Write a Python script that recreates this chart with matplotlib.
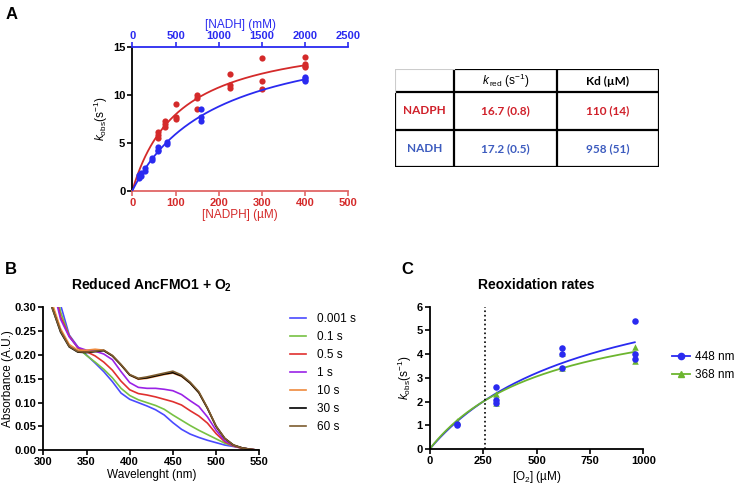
import matplotlib
matplotlib.use("Agg")
import matplotlib.pyplot as plt
import numpy as np

plt.rcParams['font.family'] = ['Liberation Sans', 'DejaVu Sans']
plt.rcParams['mathtext.fontset'] = 'custom'
plt.rcParams['mathtext.rm'] = 'Liberation Sans'
plt.rcParams['mathtext.it'] = 'Liberation Sans:italic'
plt.rcParams['mathtext.bf'] = 'Liberation Sans:bold'

# ---- panel A data ----
nadph_conc = [60, 60, 60, 75, 75, 75, 100, 100, 100, 150, 150, 150,
              225, 225, 225, 300, 300, 300, 400, 400, 400, 400]
nadph_kobs = [5.5, 5.8, 6.1, 6.7, 7.0, 7.3, 7.5, 7.7, 9.0, 8.5, 9.7, 10.0,
              10.7, 11.0, 12.2, 10.6, 11.5, 13.8, 12.9, 13.0, 13.2, 14.0]
nadh_conc = [75, 75, 100, 100, 150, 150, 225, 225, 300, 300, 300, 400, 400,
             800, 800, 800, 2000, 2000, 2000, 2000]
nadh_kobs = [1.3, 1.6, 1.5, 1.8, 2.1, 2.4, 3.2, 3.4, 4.1, 4.3, 4.6, 4.9, 5.1,
             7.3, 7.7, 8.5, 11.4, 11.6, 11.8, 11.9]
kred_nadph, kd_nadph = 16.7, 110
kred_nadh, kd_nadh = 17.2, 958

table_rows = ['NADPH', 'NADH']
table_kred = ['16.7 (0.8)', '17.2 (0.5)']
table_kd = ['110 (14)', '958 (51)']

# ---- panel B data ----
wavelength = [310, 320, 330, 340, 350, 360, 370, 380, 390, 400, 410, 420, 430,
              440, 450, 460, 470, 480, 490, 500, 510, 520, 530, 540, 550]
spectra = {
    '0.001 s': [0.40, 0.305, 0.242, 0.217, 0.200, 0.183, 0.165, 0.144, 0.120, 0.107,
                0.100, 0.093, 0.085, 0.074, 0.058, 0.044, 0.034, 0.027, 0.021, 0.016,
                0.011, 0.008, 0.005, 0.002, 0.0],
    '0.1 s': [0.38, 0.29, 0.240, 0.215, 0.199, 0.185, 0.170, 0.152, 0.130, 0.115,
              0.106, 0.100, 0.094, 0.086, 0.074, 0.063, 0.052, 0.042, 0.033, 0.024,
              0.015, 0.009, 0.005, 0.002, 0.0],
    '0.5 s': [0.36, 0.28, 0.240, 0.215, 0.207, 0.198, 0.185, 0.168, 0.145, 0.127,
              0.119, 0.116, 0.112, 0.107, 0.102, 0.095, 0.083, 0.072, 0.057, 0.035,
              0.018, 0.009, 0.004, 0.002, 0.0],
    '1 s': [0.35, 0.275, 0.238, 0.216, 0.210, 0.208, 0.202, 0.190, 0.165, 0.142,
            0.132, 0.130, 0.130, 0.128, 0.125, 0.117, 0.104, 0.092, 0.070, 0.042,
            0.020, 0.010, 0.005, 0.002, 0.0],
    '10 s': [0.31, 0.255, 0.222, 0.210, 0.210, 0.212, 0.210, 0.198, 0.179, 0.158,
             0.149, 0.151, 0.155, 0.159, 0.162, 0.155, 0.141, 0.121, 0.088, 0.050,
             0.025, 0.011, 0.005, 0.002, 0.0],
    '30 s': [0.30, 0.248, 0.217, 0.206, 0.205, 0.207, 0.209, 0.198, 0.179, 0.158,
             0.150, 0.152, 0.156, 0.160, 0.163, 0.156, 0.141, 0.121, 0.088, 0.050,
             0.025, 0.011, 0.005, 0.002, 0.0],
    '60 s': [0.30, 0.250, 0.218, 0.207, 0.206, 0.208, 0.210, 0.199, 0.180, 0.159,
             0.151, 0.154, 0.158, 0.162, 0.166, 0.158, 0.143, 0.123, 0.089, 0.051,
             0.025, 0.011, 0.005, 0.002, 0.0],
}
spec_colors = ['#4a4aff', '#77c143', '#e0302f', '#9a22e6', '#ef8a3d', '#000000', '#7d5c2f']

# ---- panel C data ----
o2_448 = [130, 130, 310, 310, 310, 620, 620, 620, 960, 960, 960]
k_448 = [1.0, 1.05, 1.95, 2.05, 2.6, 3.4, 4.0, 4.25, 3.8, 4.0, 5.4]
o2_368 = [130, 310, 310, 620, 620, 960, 960]
k_368 = [1.2, 1.95, 2.3, 3.4, 4.05, 3.7, 4.3]
kmax_448, k50_448 = 8.04, 755
kmax_368, k50_368 = 6.5, 563
o2_air = 260

RED = '#d42a2a'
BLUE = '#2a2af0'
GREEN = '#6cb52f'
TICK = 8

fig = plt.figure(figsize=(7.38, 4.86), dpi=100)
W, H = 738, 486


def add_ax(l, t, r, b):
    return fig.add_axes([l / W, 1 - b / H, (r - l) / W, (b - t) / H])


def style(ax):
    for s in ['left', 'bottom']:
        ax.spines[s].set_linewidth(1.3)
    ax.spines['top'].set_visible(False)
    ax.spines['right'].set_visible(False)
    ax.tick_params(direction='out', length=3.5, width=1.2, labelsize=TICK, pad=1.5)
    for lab in ax.get_xticklabels() + ax.get_yticklabels():
        lab.set_fontweight('bold')


# ================= Panel A =================
axA = add_ax(132.3, 47, 348.3, 190.7)
axA.scatter(nadph_conc, nadph_kobs, s=20, color=RED, zorder=3, linewidths=0)
xs = np.linspace(0, 400, 200)
axA.plot(xs, kred_nadph * xs / (kd_nadph + xs), color=RED, lw=1.3)
axA.set_xlim(0, 500)
axA.set_ylim(0, 15)
axA.set_xticks([0, 100, 200, 300, 400, 500])
axA.set_yticks([0, 5, 10, 15])
style(axA)
axA.spines['bottom'].set_color('#e06666')
axA.tick_params(axis='x', colors='#e06666', labelcolor=RED)
axA.set_xlabel('[NADPH] (\u00b5M)', color=RED, fontsize=8.5, labelpad=1)
axA.set_ylabel(r'$k_{\mathrm{obs}}(\mathrm{s}^{-1})$', fontsize=8.5, labelpad=2)
for lab in axA.get_xticklabels() + axA.get_yticklabels():
    lab.set_fontweight('bold')

axT = axA.twiny()
axT.scatter(nadh_conc, nadh_kobs, s=20, color=BLUE, zorder=3, linewidths=0)
xs2 = np.linspace(0, 2000, 200)
axT.plot(xs2, kred_nadh * xs2 / (kd_nadh + xs2), color=BLUE, lw=1.3)
axT.set_xlim(0, 2500)
axT.set_xticks([0, 500, 1000, 1500, 2000, 2500])
for s in ['bottom', 'left', 'right']:
    axT.spines[s].set_visible(False)
axT.spines['top'].set_color(BLUE)
axT.spines['top'].set_linewidth(1.3)
axT.tick_params(axis='x', colors=BLUE, labelcolor=BLUE, direction='out', length=3.5,
                width=1.2, labelsize=TICK, pad=1)
for lab in axT.get_xticklabels():
    lab.set_fontweight('bold')
axT.set_xlabel('[NADH] (mM)', color=BLUE, fontsize=8.5, labelpad=2)

# ---- table ----
axTab = add_ax(395, 69.3, 659.3, 167.3)
axTab.set_xlim(395, 659.3)
axTab.set_ylim(167.3, 69.3)
axTab.axis('off')
xc = [395, 454, 556.7, 659.3]
yc = [69.3, 92, 130, 167.3]
kw = dict(color='black', lw=1.6, solid_capstyle='projecting')
axTab.plot([454, 659.3], [69.3, 69.3], **kw)
for y in yc[1:]:
    axTab.plot([395, 659.3], [y, y], **kw)
for x in xc[1:]:
    axTab.plot([x, x], [69.3, 167.3], **kw)
axTab.plot([395, 395], [92, 167.3], **kw)
axTab.plot([395, 454], [69.3, 69.3], color='#cccccc', lw=0.8)
axTab.plot([395, 395], [69.3, 92], color='#cccccc', lw=0.8)
tf = ['Lato', 'DejaVu Sans']
axTab.text(505.3, 81, r'$k_{\,\mathrm{red}}\ (\mathrm{s}^{-1})$', ha='center', va='center',
           fontsize=8.5)
axTab.text(608, 81, 'Kd (\u00b5M)', ha='center', va='center', fontsize=8.5,
           family=tf, fontweight='bold')
row_colors = ['#d0202a', '#3d5cbf']
for i, name in enumerate(table_rows):
    yy = (yc[i + 1] + yc[i + 2]) / 2
    axTab.text(424.5, yy, name, ha='center', va='center', fontsize=8.5,
               family=tf, fontweight='bold', color=row_colors[i])
    axTab.text(505.3, yy, table_kred[i], ha='center', va='center', fontsize=8.5,
               family=tf, fontweight='bold', color=row_colors[i])
    axTab.text(608, yy, table_kd[i], ha='center', va='center', fontsize=8.5,
               family=tf, fontweight='bold', color=row_colors[i])

# ================= Panel B =================
axB = add_ax(43.3, 307.3, 259.3, 450.3)
for (lab, vals), c in zip(spectra.items(), spec_colors):
    axB.plot(wavelength, vals, color=c, lw=1.2, label=lab)
axB.set_xlim(300, 550)
axB.set_ylim(0, 0.30)
axB.set_xticks([300, 350, 400, 450, 500, 550])
axB.set_yticks([0, 0.05, 0.10, 0.15, 0.20, 0.25, 0.30])
axB.yaxis.set_major_formatter(matplotlib.ticker.FormatStrFormatter('%.2f'))
style(axB)
axB.set_xlabel('Wavelenght (nm)', fontsize=8.5, labelpad=1)
axB.set_ylabel('Absorbance (A.U.)', fontsize=8.5, labelpad=0)
axB.set_title(r'Reduced AncFMO1 + O$_\mathbf{2}$', fontsize=10, fontweight='bold', pad=13)
axB.legend(loc='upper left', bbox_to_anchor=(1.12, 0.99), frameon=False, fontsize=8.5,
           handlelength=1.4, handletextpad=0.9, labelspacing=0.5, borderaxespad=0)

# ================= Panel C =================
axC = add_ax(429.7, 306.7, 643.3, 449)
xs3 = np.linspace(0, 960, 200)
axC.plot(xs3, kmax_448 * xs3 / (k50_448 + xs3), color=BLUE, lw=1.3, zorder=2)
axC.plot(xs3, kmax_368 * xs3 / (k50_368 + xs3), color=GREEN, lw=1.3, zorder=2)
axC.scatter(o2_368, k_368, marker='^', s=22, color=GREEN, zorder=3, linewidths=0)
axC.scatter(o2_448, k_448, marker='o', s=22, color=BLUE, zorder=4, linewidths=0)
axC.axvline(o2_air, color='black', ls=':', lw=1.2)
axC.plot([], [], color=BLUE, marker='o', ms=4.5, lw=1.3, label='448 nm')
axC.plot([], [], color=GREEN, marker='^', ms=4.5, lw=1.3, label='368 nm')
axC.set_xlim(0, 1000)
axC.set_ylim(0, 6)
axC.set_xticks([0, 250, 500, 750, 1000])
axC.set_yticks([0, 1, 2, 3, 4, 5, 6])
style(axC)
axC.set_xlabel('[O$_2$] (\u00b5M)', fontsize=8.5, labelpad=2)
axC.set_ylabel(r'$k_{\mathrm{obs}}(\mathrm{s}^{-1})$', fontsize=8.5, labelpad=2)
axC.set_title('Reoxidation rates', fontsize=10, fontweight='bold', pad=13)
axC.legend(loc='upper left', bbox_to_anchor=(1.11, 0.72), frameon=False, fontsize=8.5,
           handlelength=1.6, handletextpad=0.4, labelspacing=0.5, borderaxespad=0)

# panel letters
fig.text(6 / W, 1 - 19 / H, 'A', fontsize=12, fontweight='bold')
fig.text(5 / W, 1 - 274 / H, 'B', fontsize=12, fontweight='bold')
fig.text(401 / W, 1 - 274 / H, 'C', fontsize=12, fontweight='bold')

fig.savefig('out.png', dpi=100)
